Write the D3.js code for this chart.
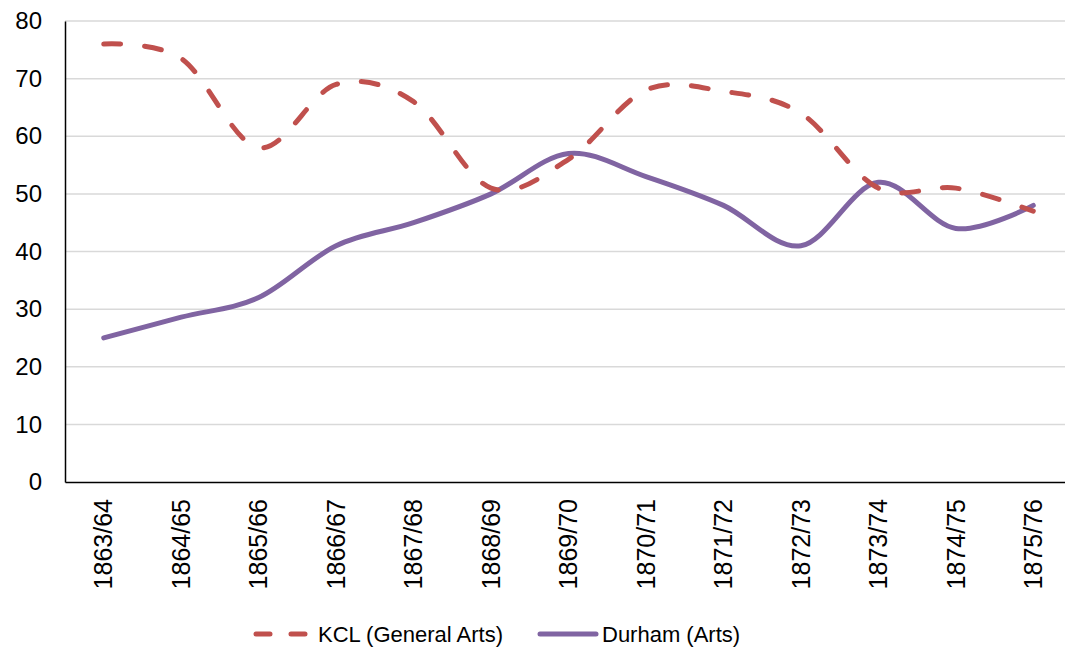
<!DOCTYPE html>
<html><head><meta charset="utf-8">
<script src="https://cdn.jsdelivr.net/npm/d3@7"></script>
<style>body{margin:0;background:#fff}svg{display:block}text{font-family:"Liberation Sans",Arial,sans-serif;fill:#000}</style>
</head><body><div id="chart"></div>
<script>
const categories = ["1863/64","1864/65","1865/66","1866/67","1867/68","1868/69","1869/70","1870/71","1871/72","1872/73","1873/74","1874/75","1875/76"];
const kclValues = [76, 73.5, 58, 69, 66, 51, 56, 68, 67.8, 64, 51, 51, 47];
const durhamValues = [25, 28.6, 32, 41, 45, 50, 57, 53, 48, 41, 52, 44, 48];
const yTicks = [0,10,20,30,40,50,60,70,80];
const seriesNames = ["KCL (General Arts)", "Durham (Arts)"];

const W = 1065, H = 648;
const m = {left: 65, top: 21, right: -7, bottom: 166};
const svg = d3.select("#chart").append("svg").attr("width", W).attr("height", H);
const x = d3.scaleBand().domain(categories).range([m.left, W - m.right]);
const y = d3.scaleLinear().domain([0, 80]).range([H - m.bottom, m.top]);

// gridlines
svg.append("g").selectAll("line").data(yTicks.filter(d => d > 0)).join("line")
  .attr("x1", m.left).attr("x2", W - m.right)
  .attr("y1", d => y(d)).attr("y2", d => y(d))
  .attr("stroke", "#d9d9d9").attr("stroke-width", 1.5);

// y axis
const yAxis = svg.append("g").attr("transform", `translate(${m.left},0)`)
  .call(d3.axisLeft(y).tickValues(yTicks).tickSize(0).tickPadding(23));
yAxis.select(".domain").attr("stroke", "#000").attr("stroke-width", 1.5);
yAxis.selectAll("text").style("font-size", "24px").style("font-family", "Liberation Sans, Arial, sans-serif");

// x axis
const xAxis = svg.append("g").attr("transform", `translate(0,${y(0)})`)
  .call(d3.axisBottom(x).tickSize(0).tickPadding(0));
xAxis.select(".domain").attr("stroke", "#000").attr("stroke-width", 1.5);
xAxis.selectAll("text").style("font-size", "25px").style("font-family", "Liberation Sans, Arial, sans-serif")
  .attr("transform", "rotate(-90)")
  .attr("text-anchor", "end").attr("dy", "0.35em").attr("x", -17).attr("y", 0);

const cx = d => x(d) + x.bandwidth() / 2;
const line = d3.line().curve(d3.curveCardinal.tension(0));

svg.append("path")
  .attr("d", line(categories.map((c, i) => [cx(c), y(durhamValues[i])])))
  .attr("fill", "none").attr("stroke", "#8064A2").attr("stroke-width", 5)
  .attr("stroke-linecap", "round").attr("stroke-linejoin", "round");

svg.append("path")
  .attr("d", line(categories.map((c, i) => [cx(c), y(kclValues[i])])))
  .attr("fill", "none").attr("stroke", "#C0504D").attr("stroke-width", 5)
  .attr("stroke-dasharray", "17 24")
  .attr("stroke-linecap", "round").attr("stroke-linejoin", "round");

// legend
const ly = 634;
const leg = svg.append("g");
leg.append("line").attr("x1", 256).attr("x2", 306).attr("y1", ly).attr("y2", ly)
  .attr("stroke", "#C0504D").attr("stroke-width", 5).attr("stroke-dasharray", "14 21").attr("stroke-linecap", "round");
leg.append("text").attr("x", 318).attr("y", ly).attr("dy", "0.35em").style("font-size", "22px").text(seriesNames[0]);
leg.append("line").attr("x1", 540).attr("x2", 596).attr("y1", ly).attr("y2", ly)
  .attr("stroke", "#8064A2").attr("stroke-width", 5).attr("stroke-linecap", "round");
leg.append("text").attr("x", 602).attr("y", ly).attr("dy", "0.35em").style("font-size", "22px").text(seriesNames[1]);
</script></body></html>
